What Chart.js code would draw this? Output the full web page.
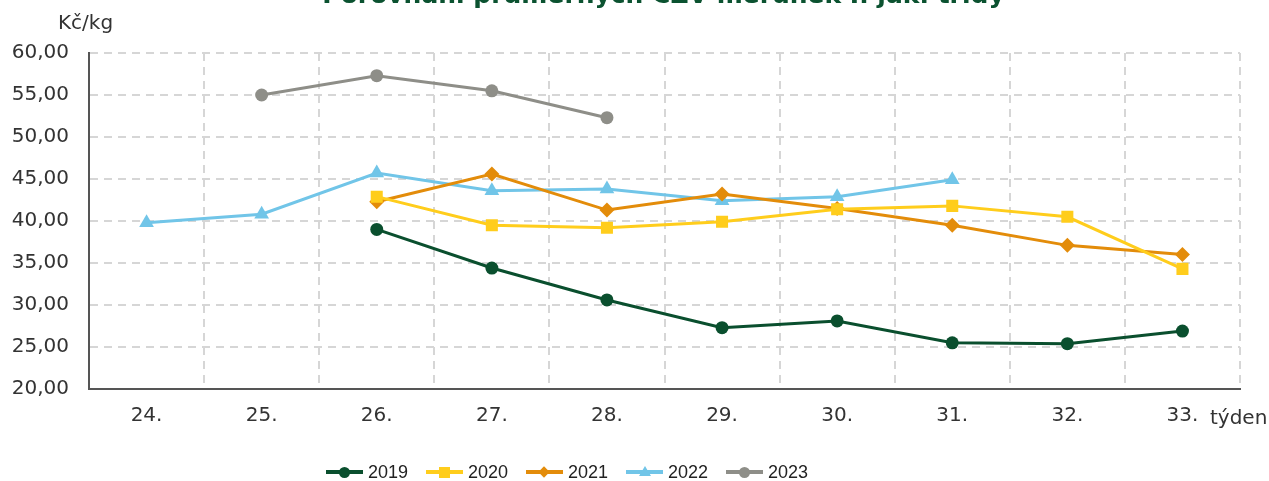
<!DOCTYPE html>
<html>
<head>
<meta charset="utf-8">
<script src="https://cdn.jsdelivr.net/npm/chart.js@4"></script>
<style>
  body { margin: 0; background: #fff; overflow: hidden; }
  #wrap { position: relative; width: 1269px; height: 481px; }
  #title { position: absolute; left: 29px; width: 1269px; top: -20px; text-align: center;
    font: bold 25px "DejaVu Sans", Verdana, sans-serif; color: #0b5230; white-space: nowrap; }
  .lbl { position: absolute; font: 20px "DejaVu Sans", Verdana, sans-serif; color: #333; }
  #legend { position: absolute; left: 0; top: 460px; width: 1134px; display: flex; justify-content: center; gap: 18px;
    font: 18px "Liberation Sans", Arial, sans-serif; color: #222; }
  .item { display: flex; align-items: center; gap: 5px; }
  .sw { position: relative; width: 37px; height: 24px; }
  .sw .ln { position: absolute; left: 0; right: 0; top: 10px; height: 4px; }
  .sw .mk { position: absolute; left: 50%; top: 50%; }
</style>
</head>
<body>
<div id="wrap">
  <div id="title">Porovnání průměrných CZV meruněk I. jak. třídy</div>
  <div class="lbl" style="left:58px; top:10px;">Kč/kg</div>
  <div class="lbl" style="left:1210px; top:405px;">týden</div>
  <canvas id="chart" width="1269" height="481"></canvas>
  <div id="legend"></div>
</div>
<script>
// DATA
let weeks = ["24.", "25.", "26.", "27.", "28.", "29.", "30.", "31.", "32.", "33."];
let years = ["2019", "2020", "2021", "2022", "2023"];
let v2019 = [null, null, 39.0, 34.4, 30.6, 27.3, 28.1, 25.5, 25.4, 26.9];
let v2020 = [null, null, 42.9, 39.5, 39.2, 39.9, 41.4, 41.8, 40.5, 34.3];
let v2021 = [null, null, 42.3, 45.6, 41.3, 43.2, 41.5, 39.5, 37.1, 36.0];
let v2022 = [39.8, 40.8, 45.7, 43.6, 43.8, 42.4, 42.9, 44.9, null, null];
let v2023 = [null, 55.0, 57.3, 55.5, 52.3, null, null, null, null, null];

// STYLE
let colors = ["#0a4f2e", "#ffcd1c", "#e38c0a", "#71c5e8", "#8e8e88"];
let shapes = ["circle", "rect", "rectRot", "triangle", "circle"];
let radii = [6.5, 8.5, 7.5, 8.5, 6.5];
let values = [v2019, v2020, v2021, v2022, v2023];

let datasets = years.map((y, i) => ({
  label: y,
  data: values[i],
  borderColor: colors[i],
  backgroundColor: colors[i],
  borderWidth: 3,
  pointStyle: shapes[i],
  pointRadius: radii[i],
  pointHoverRadius: radii[i],
  pointBorderWidth: 0,
  tension: 0,
  spanGaps: false
}));

let tickFont = { family: "'DejaVu Sans', Verdana, sans-serif", size: 20 };

new Chart(document.getElementById("chart"), {
  type: "line",
  data: { labels: weeks, datasets: datasets },
  options: {
    responsive: false,
    animation: false,
    layout: { padding: { top: 53, right: 29, bottom: 0, left: 0 } },
    plugins: { legend: { display: false }, tooltip: { enabled: false } },
    scales: {
      x: {
        offset: true,
        grid: { offset: true, color: "#d6d6d6", lineWidth: 2, drawTicks: false },
        border: { display: true, color: "#555", width: 2, dash: [8, 6] },
        ticks: { color: "#333", font: tickFont, padding: 15 },
        afterFit: s => { s.height = 92; }
      },
      y: {
        min: 20,
        max: 60,
        grid: { color: "#d6d6d6", lineWidth: 2, drawTicks: false },
        border: { display: true, color: "#555", width: 2, dash: [8, 6] },
        ticks: {
          stepSize: 5,
          color: "#333",
          font: tickFont,
          padding: 20,
          callback: v => v.toFixed(2).replace(".", ",")
        },
        afterFit: s => { s.width = 89; }
      }
    }
  }
});

// LEGEND
let legend = document.getElementById("legend");
years.forEach((y, i) => {
  let mk = "";
  let c = colors[i];
  if (shapes[i] === "circle") mk = `width:11px;height:11px;border-radius:50%;background:${c};margin:-5.5px 0 0 -5.5px;`;
  if (shapes[i] === "rect") mk = `width:11px;height:11px;background:${c};margin:-5.5px 0 0 -5.5px;`;
  if (shapes[i] === "rectRot") mk = `width:8px;height:8px;background:${c};margin:-4px 0 0 -4px;transform:rotate(45deg);`;
  if (shapes[i] === "triangle") mk = `width:0;height:0;border-left:6px solid transparent;border-right:6px solid transparent;border-bottom:10px solid ${c};margin:-6px 0 0 -6px;`;
  legend.innerHTML += `<div class="item"><div class="sw"><div class="ln" style="background:${c}"></div><div class="mk" style="${mk}"></div></div><span>${y}</span></div>`;
});
</script>
</body>
</html>
